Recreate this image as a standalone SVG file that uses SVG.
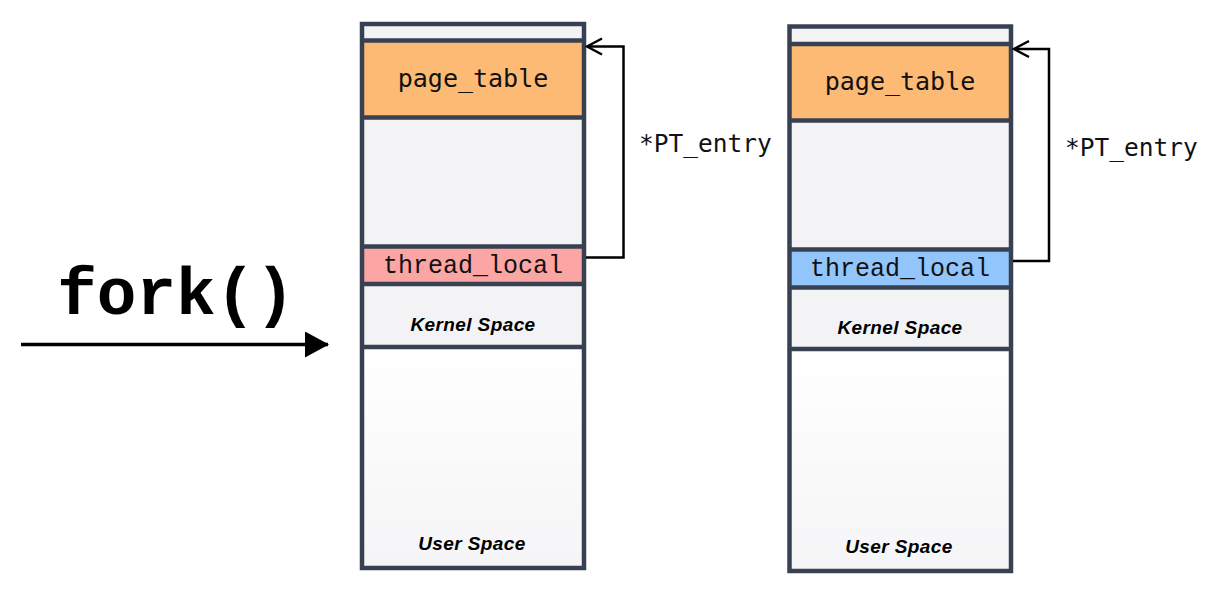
<svg xmlns="http://www.w3.org/2000/svg" width="1224" height="596" viewBox="0 0 1224 596">
<defs>
<linearGradient id="ug" x1="0" y1="0" x2="0" y2="1">
<stop offset="0" stop-color="#ffffff"/>
<stop offset="1" stop-color="#f5f5f7"/>
</linearGradient>
<marker id="chev" viewBox="0 0 20 20" refX="18" refY="10" markerWidth="20" markerHeight="20" markerUnits="userSpaceOnUse" orient="auto">
<path d="M3 2 L18 10 L3 18" fill="none" stroke="#000" stroke-width="2.5"/>
</marker>
<marker id="tri" viewBox="0 0 24 26" refX="23" refY="13" markerWidth="24" markerHeight="26" markerUnits="userSpaceOnUse" orient="auto">
<path d="M0 0 L24 13 L0 26 Z" fill="#000"/>
</marker>
</defs>
<style>
.sep{stroke:#374151;stroke-width:4.5;fill:none}
.frame{stroke:#374151;stroke-width:4.5}
.light{fill:#f3f3f6}
.orange{fill:#fdba74}
.red{fill:#fca5a5}
.blue{fill:#93c5fd}
.user{fill:url(#ug)}
.mono{font-family:"DejaVu Sans Mono",monospace;font-size:25px;fill:#111}
.mono2{font-family:"Liberation Mono","DejaVu Sans Mono",monospace;font-size:25px;fill:#111}
.lbl{font-family:"Liberation Sans",Arial,sans-serif;font-size:19px;font-weight:bold;font-style:italic;fill:#000;letter-spacing:0.4px}
.conn{fill:none;stroke:#000;stroke-width:2.5}
</style>

<g id="fork">
<text x="176" y="314" text-anchor="middle" font-family="Liberation Mono,Courier New,monospace" font-weight="bold" font-size="66" fill="#000">fork()</text>
<line x1="21" y1="344.5" x2="328" y2="344.5" stroke="#000" stroke-width="3.5" marker-end="url(#tri)"/>
</g>

<g id="box-left">
<rect x="362" y="24" width="222" height="544" class="light"/>
<rect x="362" y="40.5" width="222" height="77" class="orange"/>
<rect x="362" y="246.5" width="222" height="37.5" class="red"/>
<rect x="362" y="347" width="222" height="221" class="user"/>
<rect x="362" y="24" width="222" height="544" fill="none" class="frame"/>
<line x1="362" y1="40.5" x2="584" y2="40.5" class="sep"/>
<line x1="362" y1="117.5" x2="584" y2="117.5" class="sep"/>
<line x1="362" y1="246.5" x2="584" y2="246.5" class="sep"/>
<line x1="362" y1="284" x2="584" y2="284" class="sep"/>
<line x1="362" y1="347" x2="584" y2="347" class="sep"/>
<text x="473" y="87" text-anchor="middle" class="mono">page_table</text>
<text x="473" y="273" text-anchor="middle" class="mono2">thread_local</text>
<text x="473" y="331" text-anchor="middle" class="lbl">Kernel Space</text>
<text x="472" y="550" text-anchor="middle" class="lbl">User Space</text>
</g>

<g id="box-right">
<rect x="789.5" y="26.5" width="221.5" height="544.5" class="light"/>
<rect x="789.5" y="44" width="221.5" height="76.5" class="orange"/>
<rect x="789.5" y="249.5" width="221.5" height="38" class="blue"/>
<rect x="789.5" y="349" width="221.5" height="222" class="user"/>
<rect x="789.5" y="26.5" width="221.5" height="544.5" fill="none" class="frame"/>
<line x1="789.5" y1="44" x2="1011" y2="44" class="sep"/>
<line x1="789.5" y1="120.5" x2="1011" y2="120.5" class="sep"/>
<line x1="789.5" y1="249.5" x2="1011" y2="249.5" class="sep"/>
<line x1="789.5" y1="287.5" x2="1011" y2="287.5" class="sep"/>
<line x1="789.5" y1="349" x2="1011" y2="349" class="sep"/>
<text x="900" y="90" text-anchor="middle" class="mono">page_table</text>
<text x="900" y="276" text-anchor="middle" class="mono2">thread_local</text>
<text x="900" y="334" text-anchor="middle" class="lbl">Kernel Space</text>
<text x="899" y="553" text-anchor="middle" class="lbl">User Space</text>
</g>

<g id="connectors">
<path d="M586 257.5 H623.5 V46.5 H587" class="conn" marker-end="url(#chev)"/>
<path d="M1013 261 H1049 V49 H1014" class="conn" marker-end="url(#chev)"/>
<text x="639" y="152" class="mono" style="font-size:24.5px">*PT_entry</text>
<text x="1065" y="156" class="mono" style="font-size:24.5px">*PT_entry</text>
</g>
</svg>
